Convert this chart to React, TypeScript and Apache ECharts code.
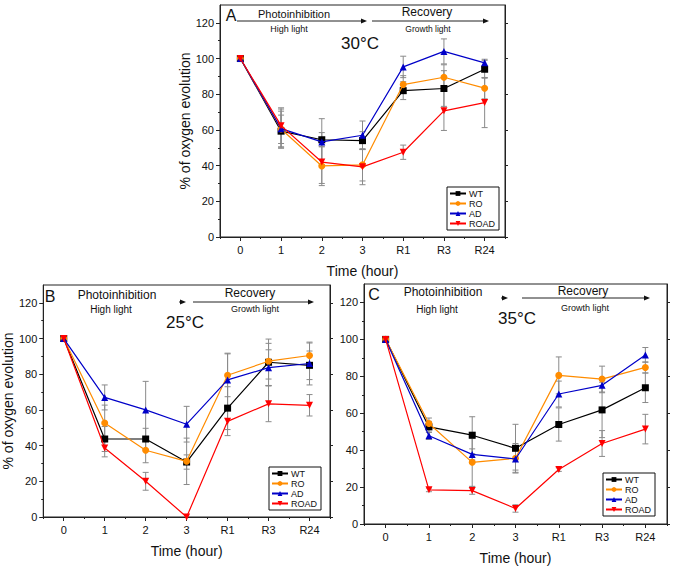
import React, { useEffect, useRef } from 'react';
import * as echarts from 'echarts';

const categories = ['0', '1', '2', '3', 'R1', 'R3', 'R24'];
const strainNames = ['WT', 'RO', 'AD', 'ROAD'];
const strainColors = ['#000000', '#ff8c00', '#0000c8', '#ff0000'];
const strainSymbols = ['rect', 'circle', 'triangle', 'triangle'];
const strainRotate = [0, 0, 0, 180];
const yTickValues = [0, 20, 40, 60, 80, 100, 120];

// Panel A, 30°C
const a30WT = [100, 59.3, 54.5, 54, 82, 83.2, 94];
const a30RO = [100, 60.5, 39.8, 40.4, 85.4, 89.5, 83.4];
const a30AD = [100, 60.7, 53.3, 57, 95.3, 104, 97.6];
const a30ROAD = [100, 62.4, 42, 39.3, 47.5, 70.7, 75.3];
const a30WTErr = [0, 9, 4, 5, 5, 10, 5];
const a30ROErr = [0, 10, 11, 9, 5, 7, 6];
const a30ADErr = [0, 11, 13, 8, 6, 7, 2];
const a30ROADErr = [0, 10, 12, 10, 4, 11, 14];

// Panel B, 25°C
const b25WT = [100, 43.7, 43.7, 30.8, 61, 86.7, 85];
const b25RO = [100, 52.7, 37.4, 31.2, 79.4, 87.3, 90.5];
const b25AD = [100, 67, 60, 52, 76.8, 83.7, 86];
const b25ROAD = [100, 38.7, 20, 0, 53.6, 63.4, 62.6];
const b25WTErr = [0, 7, 6, 4, 12, 13, 8];
const b25ROErr = [0, 10, 7, 13, 12, 10, 7];
const b25ADErr = [0, 7, 16, 10, 15, 10, 12];
const b25ROADErr = [0, 5, 5, 0, 8, 10, 6];

// Panel C, 35°C
const c35WT = [100, 52.6, 48.1, 41, 53.9, 61.8, 73.8];
const c35RO = [100, 54.4, 33.4, 35.6, 80.5, 78.5, 84.8];
const c35AD = [100, 47.8, 37.7, 35.2, 70.4, 75.1, 91.6];
const c35ROAD = [100, 18.5, 18.1, 8.4, 29.5, 43.6, 51.4];
const c35WTErr = [0, 3, 10, 13, 9, 15, 8];
const c35ROErr = [0, 3, 13, 8, 10, 7, 3];
const c35ADErr = [0, 2, 3, 6, 7, 4, 4];
const c35ROADErr = [0, 1, 2, 2, 1, 7, 8];

const FONT = 'Arial, "Liberation Sans", Helvetica, sans-serif';

type PanelDef = {
  grid: { left: number; top: number; width: number; height: number };
  values: number[][];
  errors: number[][];
  yName: string;
  legend: { left: number; top: number };
};

const panels: PanelDef[] = [
  {
    grid: { left: 220, top: 5, width: 285, height: 232 },
    values: [a30WT, a30RO, a30AD, a30ROAD],
    errors: [a30WTErr, a30ROErr, a30ADErr, a30ROADErr],
    yName: '% of oxygen evolution',
    legend: { left: 447, top: 187 },
  },
  {
    grid: { left: 42, top: 285, width: 288, height: 232 },
    values: [b25WT, b25RO, b25AD, b25ROAD],
    errors: [b25WTErr, b25ROErr, b25ADErr, b25ROADErr],
    yName: '% of oxygen evolution',
    legend: { left: 269, top: 467 },
  },
  {
    grid: { left: 364, top: 284, width: 303, height: 240 },
    values: [c35WT, c35RO, c35AD, c35ROAD],
    errors: [c35WTErr, c35ROErr, c35ADErr, c35ROADErr],
    yName: '',
    legend: { left: 603, top: 473 },
  },
];

function buildOption() {
  const grids: any[] = [];
  const xAxes: any[] = [];
  const yAxes: any[] = [];
  const series: any[] = [];
  const legends: any[] = [];

  panels.forEach((p, gi) => {
    grids.push({
      ...p.grid,
      show: true,
      borderColor: '#222',
      borderWidth: 1,
      backgroundColor: 'transparent',
    });
    const xMain = xAxes.length;
    xAxes.push({
      type: 'category',
      gridIndex: gi,
      data: categories,
      position: 'bottom',
      boundaryGap: true,
      axisLine: { show: true, lineStyle: { color: '#222', width: 1 } },
      axisTick: { show: true, alignWithLabel: true, length: 4, lineStyle: { color: '#222' } },
      axisLabel: { color: '#111', fontSize: 11, fontFamily: FONT, margin: 7 },
      splitLine: { show: false },
      name: 'Time (hour)',
      nameLocation: 'middle',
      nameGap: 27,
      nameTextStyle: { color: '#111', fontSize: 14, fontFamily: FONT },
    });
    xAxes.push({
      type: 'category',
      gridIndex: gi,
      data: categories,
      position: 'bottom',
      boundaryGap: true,
      axisLine: { show: false },
      axisTick: { show: true, alignWithLabel: false, length: 2, lineStyle: { color: '#222' } },
      axisLabel: { show: false },
      splitLine: { show: false },
    });
    const yMain = yAxes.length;
    yAxes.push({
      type: 'value',
      gridIndex: gi,
      position: 'left',
      min: 0,
      max: 130,
      interval: 10,
      axisLine: { show: true, lineStyle: { color: '#222', width: 1 } },
      axisTick: { show: true, length: 4, customValues: yTickValues, lineStyle: { color: '#222' } },
      axisLabel: { color: '#111', fontSize: 11, fontFamily: FONT, customValues: yTickValues, margin: 6 },
      splitLine: { show: false },
      name: p.yName,
      nameLocation: 'middle',
      nameGap: 27,
      nameRotate: 90,
      nameTextStyle: { color: '#111', fontSize: 14, fontFamily: FONT },
    });
    yAxes.push({
      type: 'value',
      gridIndex: gi,
      position: 'left',
      min: 0,
      max: 130,
      interval: 10,
      axisLine: { show: false },
      axisTick: { show: true, length: 2, customValues: [10, 30, 50, 70, 90, 110], lineStyle: { color: '#222' } },
      axisLabel: { show: false },
      splitLine: { show: false },
    });
    yAxes.push({
      type: 'value',
      gridIndex: gi,
      position: 'right',
      min: 0,
      max: 130,
      interval: 10,
      axisLine: { show: true, lineStyle: { color: '#222', width: 1 } },
      axisTick: { show: true, length: 3, customValues: yTickValues, lineStyle: { color: '#222' } },
      axisLabel: { show: false },
      splitLine: { show: false },
    });

    const legendNames: string[] = [];
    strainNames.forEach((nm, si) => {
      const errData = p.values[si]
        .map((v, i) => [i, v, p.errors[si][i]])
        .filter((d) => d[2] > 0);
      series.push({
        type: 'custom',
        name: `err-${gi}-${nm}`,
        xAxisIndex: xMain,
        yAxisIndex: yMain,
        encode: { x: 0, y: 1 },
        data: errData,
        silent: true,
        z: 1,
        renderItem: (params: any, api: any) => {
          const x = api.value(0);
          const y = api.value(1);
          const e = api.value(2);
          const top = api.coord([x, y + e]);
          const bot = api.coord([x, y - e]);
          const hw = 3;
          const st = { stroke: '#8a8a8a', lineWidth: 1 };
          return {
            type: 'group',
            children: [
              { type: 'line', shape: { x1: top[0], y1: top[1], x2: bot[0], y2: bot[1] }, style: st },
              { type: 'line', shape: { x1: top[0] - hw, y1: top[1], x2: top[0] + hw, y2: top[1] }, style: st },
              { type: 'line', shape: { x1: bot[0] - hw, y1: bot[1], x2: bot[0] + hw, y2: bot[1] }, style: st },
            ],
          };
        },
      });
    });
    strainNames.forEach((nm, si) => {
      legendNames.push(nm);
      series.push({
        type: 'line',
        name: nm,
        xAxisIndex: xMain,
        yAxisIndex: yMain,
        data: p.values[si],
        symbol: strainSymbols[si],
        symbolRotate: strainRotate[si],
        symbolSize: 7,
        showSymbol: true,
        lineStyle: { color: strainColors[si], width: 1.2 },
        itemStyle: { color: strainColors[si] },
        z: 3 + si,
      });
    });
    legends.push({
      show: true,
      orient: 'vertical',
      left: p.legend.left,
      top: p.legend.top,
      data: legendNames,
      itemWidth: 16,
      itemHeight: 6,
      itemGap: 1,
      padding: [2, 4, 2, 2],
      borderColor: '#111',
      borderWidth: 1,
      backgroundColor: '#fff',
      selectedMode: false,
      textStyle: { fontSize: 9, lineHeight: 8, color: '#111', fontFamily: FONT, padding: [0, 0, 0, -2] },
    });
  });

  const txt = (text: string, x: number, y: number, size: number, align = 'center') => ({
    type: 'text',
    x,
    y,
    silent: true,
    style: {
      text,
      fill: '#111',
      font: `${size}px ${FONT}`,
      align,
      verticalAlign: 'middle',
    },
  });
  const hline = (x1: number, x2: number, y: number) => ({
    type: 'line',
    silent: true,
    shape: { x1, y1: y, x2, y2: y },
    style: { stroke: '#222', lineWidth: 1 },
  });
  const arrowR = (x: number, y: number) => ({
    type: 'polygon',
    silent: true,
    shape: { points: [[x - 6, y - 2.5], [x, y], [x - 6, y + 2.5]] },
    style: { fill: '#111' },
  });

  const graphic: any[] = [
    // Panel A
    txt('A', 231, 15, 16),
    hline(237, 362, 21),
    arrowR(367, 21),
    txt('Photoinhibition', 294, 14, 11),
    txt('High light', 289, 29, 9),
    hline(372, 484, 21),
    arrowR(489, 21),
    txt('Recovery', 427, 12, 12),
    txt('Growth light', 428, 29, 8.5),
    txt('30°C', 360, 43, 17),
    // Panel B
    txt('B', 50, 296, 16),
    txt('Photoinhibition', 117, 295, 12),
    txt('High light', 111, 309, 10),
    hline(179, 183, 302),
    arrowR(186, 302),
    hline(193, 309, 302),
    arrowR(314, 302),
    txt('Recovery', 250, 293, 12),
    txt('Growth light', 255, 309, 9),
    txt('25°C', 185, 322, 17),
    // Panel C
    txt('C', 374, 294, 16),
    txt('Photoinhibition', 443, 292, 12),
    txt('High light', 437, 309, 10),
    hline(501, 505, 298),
    arrowR(508, 298),
    hline(522, 645, 298),
    arrowR(650, 298),
    txt('Recovery', 583, 291, 12),
    txt('Growth light', 585, 308, 9),
    txt('35°C', 517, 318, 17),
  ];

  return {
    animation: false,
    backgroundColor: '#ffffff',
    textStyle: { fontFamily: FONT },
    grid: grids,
    xAxis: xAxes,
    yAxis: yAxes,
    legend: legends,
    series,
    graphic,
  };
}

export default function App() {
  const ref = useRef<HTMLDivElement>(null);
  useEffect(() => {
    if (!ref.current) return;
    const chart = echarts.init(ref.current, undefined, { renderer: 'svg' });
    chart.setOption(buildOption() as any);
    return () => chart.dispose();
  }, []);
  return (
    <div
      ref={ref}
      style={{ position: 'fixed', left: 0, top: 0, width: 673, height: 567, background: '#fff' }}
    />
  );
}
